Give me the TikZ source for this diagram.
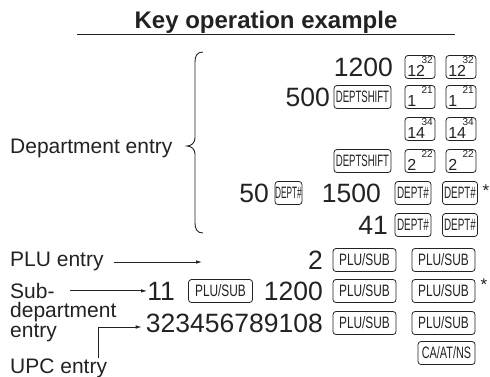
\documentclass[tikz,border=0pt]{standalone}
\usepackage{fontspec}
\setmainfont{Liberation Sans}
\usepackage{graphicx}
\usetikzlibrary{arrows.meta}

\definecolor{ink}{HTML}{222222}
\newcommand{\fs}[1]{\fontsize{#1}{#1}\selectfont}

% key with a text legend: name, x, y, width, xscale, legend
\newcommand{\txtkey}[6]{%
  \node[keybox, minimum width=#4pt] (#1) at (#2,#3) {\scalebox{#5}[1]{#6}};}
% numbered key: name, x, y, main, upper
\newcommand{\numkey}[5]{%
  \node[keybox, minimum width=30pt] (#1) at (#2,#3) {};
  \node[font=\fs{16}, anchor=base west, inner sep=0pt] at ([shift={(2.5,-2)}]#1.south west) {#4};
  \node[font=\fs{10}, anchor=north east, inner sep=0pt] at ([shift={(-2.5,1.5)}]#1.north east) {#5};}

\begin{document}
\begin{tikzpicture}[x=1pt, y=-1pt, ink,
    keybox/.style={draw=ink, line width=0.8pt, rounded corners=3pt,
      minimum height=23pt, inner sep=0pt, font=\fs{16.5}},
    bignum/.style={font=\fs{26.5}, inner sep=0pt, anchor=base east},
    lbl/.style={font=\fs{21}, inner sep=0pt, anchor=base west},
    star/.style={font=\fs{17}, inner sep=0pt},
    arr/.style={line width=0.8pt, -{Latex[length=6pt, width=3.5pt]}}]
    \useasboundingbox (0,0) rectangle (490,376);

    % --- 1. title ---
    \node[font=\bfseries\fs{24}, inner sep=0pt, anchor=base] (title) at (266,28) {Key operation example};
    \draw[line width=0.9pt] (77,34.5) -- (455,34.5);

    % --- 2. department rows ---
    \node[bignum] (n1) at (393,76) {1200};
    \numkey{k1a}{420}{67}{12}{32}
    \numkey{k1b}{461}{67}{12}{32}

    \node[bignum] (n2) at (330,106) {500};
    \txtkey{s2}{362.5}{97}{57}{0.58}{DEPTSHIFT}
    \numkey{k2a}{420}{97}{1}{21}
    \numkey{k2b}{461}{97}{1}{21}

    \numkey{k3a}{420}{129}{14}{34}
    \numkey{k3b}{461}{129}{14}{34}

    \txtkey{s4}{362.5}{161}{57}{0.58}{DEPTSHIFT}
    \numkey{k4a}{420}{161}{2}{22}
    \numkey{k4b}{461}{161}{2}{22}

    \node[bignum] (n5a) at (269,202) {50};
    \txtkey{d5}{288.5}{193}{27}{0.5}{DEPT\#}
    \node[bignum] (n5b) at (381,202) {1500};
    \txtkey{d5a}{413}{193}{36}{0.6}{DEPT\#}
    \txtkey{d5b}{460}{193}{35}{0.6}{DEPT\#}
    \node[star] (st5) at (486,191) {*};

    \node[bignum] (n6) at (388,234) {41};
    \txtkey{d6a}{413}{225}{36}{0.6}{DEPT\#}
    \txtkey{d6b}{460}{225}{35}{0.6}{DEPT\#}

    % --- 3. PLU / sub-department / UPC rows ---
    \node[bignum] (n7) at (323,269) {2};
    \txtkey{p7a}{364.5}{260}{63}{0.72}{PLU/SUB}
    \txtkey{p7b}{443.5}{260}{63}{0.72}{PLU/SUB}

    \node[bignum] (n8a) at (175,300) {11};
    \txtkey{p8}{220.5}{291}{64}{0.72}{PLU/SUB}
    \node[bignum] (n8b) at (323,300) {1200};
    \txtkey{p8a}{364.5}{291}{63}{0.72}{PLU/SUB}
    \txtkey{p8b}{443.5}{291}{63}{0.72}{PLU/SUB}
    \node[star] (st8) at (484,285) {*};

    \node[bignum] (n9) at (323,332) {323456789108};
    \txtkey{p9a}{364.5}{323}{63}{0.72}{PLU/SUB}
    \txtkey{p9b}{443.5}{323}{63}{0.72}{PLU/SUB}

    \txtkey{c10}{446.5}{353}{57}{0.66}{CA/AT/NS}

    % --- 4. labels, brace and arrows ---
    \node[lbl] (dept) at (10,153) {Department entry};
    \draw[line width=0.9pt] (203,52) .. controls (197,52) and (195,56) .. (195,62)
      -- (195,138) .. controls (195,143) and (191,146) .. (187,146)
      .. controls (191,146) and (195,149) .. (195,154)
      -- (195,223) .. controls (195,229) and (197,233) .. (203,233);

    \node[lbl] (plu) at (10,266) {PLU entry};
    \coordinate (pluEnd) at (202,262);
    \draw[arr] (plu.east |- pluEnd) ++(10,0) -- (pluEnd);

    \node[lbl] (subA) at (10,298) {Sub-};
    \node[lbl] (subB) at (10,317) {department};
    \node[lbl] (subC) at (10,337) {entry};
    \draw[arr] (subA.east |- n8a.west) ++(15,0) -- (n8a.west);

    \node[lbl] (upc) at (10,373) {UPC entry};
    \coordinate (upcBend) at (98,327);
    \draw[arr] (upcBend |- upc.north) -- (upcBend) -- ([xshift=-4pt]n9.west |- upcBend);
\end{tikzpicture}
\end{document}
